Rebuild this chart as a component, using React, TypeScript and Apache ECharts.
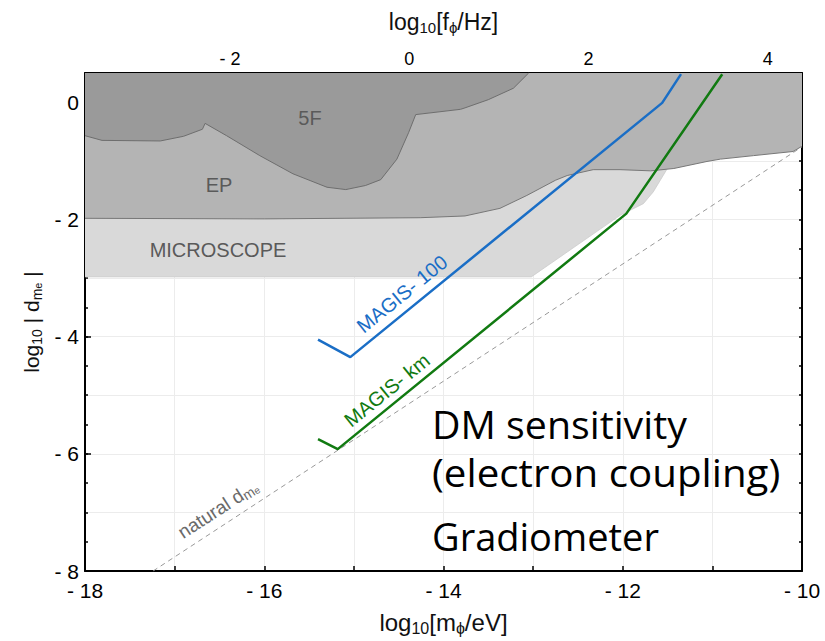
import React, { useEffect, useRef } from 'react';
import * as echarts from 'echarts';

// log10 of (1 eV / h) in Hz : f = m c^2 / h
const freqOffset = 14.383;
const massRange = [-18, -10];
const couplingRange = [-8, 0.5];

// Excluded regions: lower boundaries (log10 m_phi [eV], log10 |d_me|), filled up to the top
const fiveFBoundary: [number, number][] = [
  [-18, -0.57], [-17.81, -0.65], [-17.16, -0.66], [-16.9, -0.58], [-16.69, -0.46],
  [-16.66, -0.36], [-16.42, -0.57], [-16.05, -0.91], [-15.68, -1.22], [-15.3, -1.45],
  [-15.09, -1.49], [-14.87, -1.42], [-14.7, -1.32], [-14.52, -0.97], [-14.39, -0.52],
  [-14.31, -0.21], [-13.81, -0.12], [-13.76, -0.095], [-13.5, 0.045], [-13.22, 0.24],
  [-13.05, 0.5],
];
const epBoundary: [number, number][] = [
  [-18, -1.98], [-16, -1.99], [-14.26, -1.97], [-13.76, -1.94], [-13.37, -1.81],
  [-13.07, -1.59], [-12.75, -1.33], [-12.62, -1.25], [-12.33, -1.15], [-12.03, -1.15],
  [-11.69, -1.17], [-11.43, -1.13], [-11.06, -1.01], [-10.91, -0.97], [-10.54, -0.91],
  [-10.1, -0.84], [-10, -0.75],
];
const microscopeBoundary: [number, number][] = [
  [-18, -2.98], [-13.02, -2.98], [-12.03, -1.93], [-11.77, -1.73], [-11.66, -1.53],
  [-11.51, -1.15],
];
// Projected sensitivities
const magis100: [number, number][] = [
  [-15.4, -4.05], [-15.04, -4.35], [-11.56, -0.01], [-11.35, 0.48],
];
const magisKm: [number, number][] = [
  [-15.4, -5.75], [-15.18, -5.92], [-11.96, -1.9], [-10.89, 0.48],
];
const naturalLine: [number, number][] = [
  [-17.24, -8], [-10, -0.76],
];

const FONT = 'Liberation Sans';
const BIG = 'Open Sans';
const fmt = (v: number) => (v < 0 ? '- ' + Math.abs(v) : String(v));
const evenOnly = (v: number) => {
  const r = Math.round(v);
  return Math.abs(r - v) < 1e-6 && r % 2 === 0 ? fmt(r) : '';
};

const richName = (size: number, sub: number) => ({
  a: { fontSize: size, fontFamily: FONT, color: '#111', lineHeight: size + 4 },
  s: { fontSize: sub, fontFamily: FONT, color: '#111', verticalAlign: 'bottom', lineHeight: sub },
  t: { fontSize: sub - 3, fontFamily: FONT, color: '#111', verticalAlign: 'bottom', lineHeight: sub - 6 },
});

const centered = { align: 'center', verticalAlign: 'middle', textAlign: 'center', textVerticalAlign: 'middle' };
const leftMid = { align: 'left', verticalAlign: 'middle', textAlign: 'left', textVerticalAlign: 'middle' };

export default function App() {
  const ref = useRef<HTMLDivElement>(null);
  useEffect(() => {
    document.body.style.margin = '0';
    const chart = echarts.init(ref.current!, undefined, { renderer: 'svg' });
    const axisLine = { show: true, onZero: false, lineStyle: { color: '#000', width: 2 } };
    const noLine = { show: false, onZero: false };
    const tick = (len: number) => ({ show: true, inside: true, length: len, lineStyle: { color: '#000', width: 1.5 } });
    const lineSeries = (name: string, data: [number, number][], color: string, width: number, extra: any = {}) => ({
      name, type: 'line', data, symbol: 'none', showSymbol: false, silent: true,
      xAxisIndex: 0, yAxisIndex: 0,
      lineStyle: { color, width, ...(extra.lineStyle || {}) },
      ...extra.rest,
    });
    chart.setOption({
      animation: false,
      backgroundColor: '#fff',
      grid: { left: 85, right: 23, top: 73, bottom: 65, containLabel: false },
      xAxis: [
        {
          type: 'value', position: 'bottom', min: massRange[0], max: massRange[1], interval: 1,
          axisLine, axisTick: tick(5),
          axisLabel: { formatter: evenOnly, fontSize: 21, color: '#000', fontFamily: FONT, margin: 9 },
          splitLine: { show: true, lineStyle: { color: '#ececec', width: 1 } },
          name: '{a|log}{s|10}{a|[m}{s|ϕ}{a|/eV]}', nameLocation: 'middle', nameGap: 37,
          nameTextStyle: { rich: richName(24, 16) },
        },
        {
          type: 'value', position: 'top', min: massRange[0] + freqOffset, max: massRange[1] + freqOffset,
          splitNumber: 8, minInterval: 1, maxInterval: 1,
          axisLine, axisTick: tick(5),
          axisLabel: { formatter: evenOnly, fontSize: 18, color: '#000', fontFamily: FONT, margin: 5, showMinLabel: false, showMaxLabel: false },
          splitLine: { show: false },
          name: '{a|log}{s|10}{a|[f}{s|ϕ}{a|/Hz]}', nameLocation: 'middle', nameGap: 38,
          nameTextStyle: { rich: richName(23, 15) },
        },
      ],
      yAxis: [
        {
          type: 'value', position: 'left', min: couplingRange[0], max: couplingRange[1], interval: 0.5,
          axisLine, axisTick: tick(3),
          axisLabel: { formatter: evenOnly, fontSize: 21, color: '#000', fontFamily: FONT, margin: 6 },
          splitLine: { show: false },
          name: '{a|log}{s|10}{a| | d}{s|m}{t|e}{a| |}', nameLocation: 'middle', nameGap: 41,
          nameTextStyle: { rich: richName(21, 14) },
        },
        {
          type: 'value', position: 'left', min: couplingRange[0], max: couplingRange[1], interval: 2,
          axisLine: noLine, axisTick: tick(6), axisLabel: { show: false }, splitLine: { show: false },
        },
        {
          type: 'value', position: 'right', min: couplingRange[0], max: couplingRange[1], interval: 0.5,
          axisLine, axisTick: tick(3), axisLabel: { show: false }, splitLine: { show: false },
        },
        {
          type: 'value', position: 'left', min: couplingRange[0], max: couplingRange[1], interval: 1,
          axisLine: noLine, axisTick: { show: false }, axisLabel: { show: false },
          splitLine: { show: true, lineStyle: { color: '#ececec', width: 1 } },
        },
      ],
      series: [
        lineSeries('MICROSCOPE', microscopeBoundary, '#cccccc', 0.8, {
          rest: { areaStyle: { color: '#d9d9d9', opacity: 1, origin: 'end' }, z: 1 },
        }),
        lineSeries('EP', epBoundary, '#777777', 1, {
          rest: { areaStyle: { color: '#b4b4b4', opacity: 1, origin: 'end' }, z: 2 },
        }),
        lineSeries('5F', fiveFBoundary, '#6e6e6e', 1, {
          rest: { areaStyle: { color: '#9a9a9a', opacity: 1, origin: 'end' }, z: 3 },
        }),
        lineSeries('natural', naturalLine, '#999999', 1, {
          lineStyle: { type: [5, 4] }, rest: { z: 4 },
        }),
        lineSeries('MAGIS-100', magis100, '#1a6ec6', 2.5, { rest: { z: 5 } }),
        lineSeries('MAGIS-km', magisKm, '#117a11', 2.5, { rest: { z: 5 } }),
      ],
      graphic: [
        { type: 'text', x: 310, y: 118, z: 10, style: { text: '5F', fill: '#5a5a5a', font: `20px ${FONT}`, ...centered } },
        { type: 'text', x: 219, y: 185, z: 10, style: { text: 'EP', fill: '#5a5a5a', font: `20px ${FONT}`, ...centered } },
        { type: 'text', x: 218, y: 250, z: 10, style: { text: 'MICROSCOPE', fill: '#5a5a5a', font: `20px ${FONT}`, ...centered } },
        { type: 'text', x: 402, y: 294, rotation: (39 * Math.PI) / 180, z: 10, style: { text: 'MAGIS- 100', fill: '#1a6ec6', font: `20px ${FONT}`, ...centered } },
        { type: 'text', x: 387, y: 390, rotation: (39 * Math.PI) / 180, z: 10, style: { text: 'MAGIS- km', fill: '#117a11', font: `20px ${FONT}`, ...centered } },
        {
          type: 'text', x: 218, y: 509, rotation: (33 * Math.PI) / 180, z: 10,
          style: {
            text: '{a|natural d}{s|m}{t|e}', ...centered,
            rich: {
              a: { fontSize: 19, fontFamily: FONT, fill: '#6a6a6a', color: '#6a6a6a', lineHeight: 21 },
              s: { fontSize: 14, fontFamily: FONT, fill: '#6a6a6a', color: '#6a6a6a', verticalAlign: 'bottom', lineHeight: 14 },
              t: { fontSize: 10, fontFamily: FONT, fill: '#6a6a6a', color: '#6a6a6a', verticalAlign: 'bottom', lineHeight: 7 },
            },
          },
        },
        { type: 'text', x: 432, y: 424, z: 10, scaleX: 1.035, style: { text: 'DM sensitivity', fill: '#000', font: `38px ${BIG}`, ...leftMid } },
        { type: 'text', x: 432, y: 472, z: 10, scaleX: 1.06, style: { text: '(electron coupling)', fill: '#000', font: `38px ${BIG}`, ...leftMid } },
        { type: 'text', x: 432, y: 536, z: 10, style: { text: 'Gradiometer', fill: '#000', font: `38px ${BIG}`, ...leftMid } },
      ],
    });
    return () => chart.dispose();
  }, []);
  return <div ref={ref} style={{ width: 825, height: 641 }} />;
}
